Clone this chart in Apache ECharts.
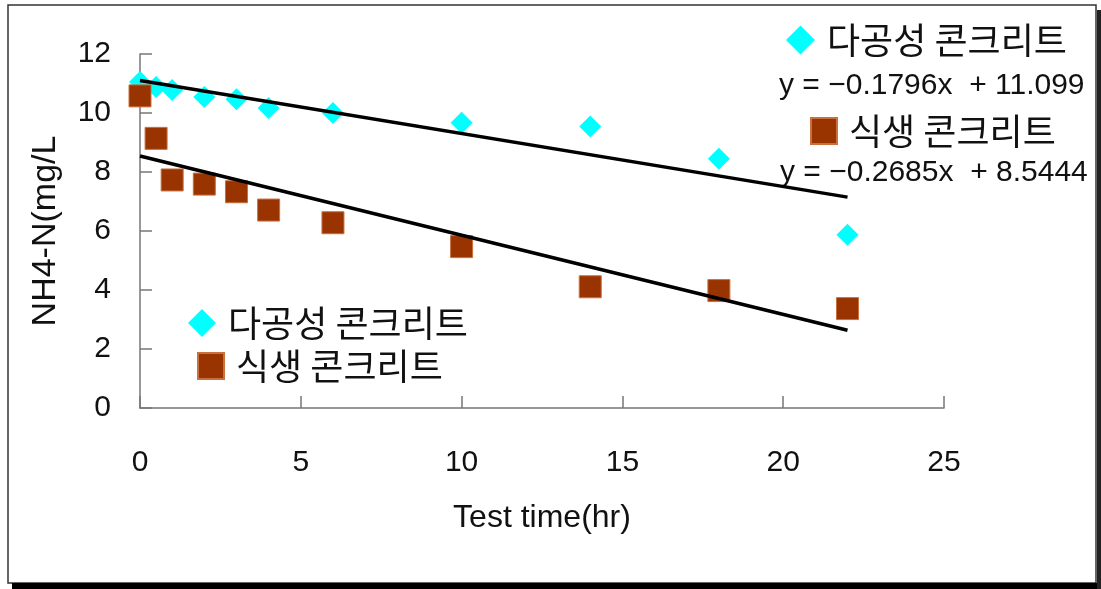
<!DOCTYPE html>
<html><head><meta charset="utf-8">
<script src="https://cdn.jsdelivr.net/npm/echarts@6/dist/echarts.min.js"></script>
<style>html,body{margin:0;padding:0;background:#fff}#c{width:1101px;height:589px}</style>
</head><body><div id="c"></div>
<script>
const timeHr = [0, 0.5, 1, 2, 3, 4, 6, 10, 14, 18, 22];
const porous = [11.05, 10.88, 10.78, 10.54, 10.47, 10.17, 10.0, 9.67, 9.54, 8.45, 5.87];
const vegetated = [10.58, 9.14, 7.73, 7.59, 7.33, 6.71, 6.28, 5.47, 4.11, 3.98, 3.37];
const seriesNames = ['다공성 콘크리트', '식생 콘크리트'];
const trendPorous = { slope: -0.1796, intercept: 11.099 };
const trendVeg = { slope: -0.2685, intercept: 8.5444 };
const eqTexts = ['y = −0.1796x  + 11.099', 'y = −0.2685x  + 8.5444'];
const xTicks = [0, 5, 10, 15, 20, 25];
const yTicks = [0, 2, 4, 6, 8, 10, 12];
const xName = 'Test time(hr)';
const yName = 'NH4-N(mg/L';

const LAT = "'Liberation Sans', Arial, sans-serif";
const KR = "'Noto Sans CJK KR', sans-serif";
const CYAN = '#00FFFF', BROWN = '#993300';

function pairs(xs, ys) { return xs.map((x, i) => [x, ys[i]]); }
function trend(t) {
  const x0 = timeHr[0], x1 = timeHr[timeHr.length - 1];
  return [[x0, t.intercept + t.slope * x0], [x1, t.intercept + t.slope * x1]];
}

const chart = echarts.init(document.getElementById('c'), null, { renderer: 'canvas' });
const legendText = { fontFamily: KR, fontSize: 36, color: '#111', padding: [0, 0, 0, 7] };
function legendOf(name, icon, size, left, top) {
  return { data: [{ name: name, icon: icon }], left: left, top: top, itemWidth: size, itemHeight: size,
    selectedMode: false, textStyle: legendText, padding: 0 };
}
chart.setOption({
  animation: false,
  backgroundColor: '#fff',
  grid: { left: 140, right: 157, top: 54, bottom: 181, containLabel: false },
  xAxis: {
    type: 'value', min: xTicks[0], max: xTicks[xTicks.length - 1], interval: 5,
    name: xName, nameLocation: 'middle', nameGap: 94,
    nameTextStyle: { fontFamily: LAT, fontSize: 32, color: '#111' },
    axisLine: { onZero: false, lineStyle: { color: '#777', width: 1.5 } },
    axisTick: { inside: true, length: 12, lineStyle: { color: '#777', width: 1.5 } },
    axisLabel: { margin: 40, fontFamily: LAT, fontSize: 30, color: '#111' },
    splitLine: { show: false }
  },
  yAxis: {
    type: 'value', min: yTicks[0], max: yTicks[yTicks.length - 1], interval: 2,
    name: yName, nameLocation: 'middle', nameGap: 77,
    nameTextStyle: { fontFamily: LAT, fontSize: 34, color: '#111' },
    axisLine: { show: true, lineStyle: { color: '#777', width: 1.5 } },
    axisTick: { show: true, inside: true, length: 12, lineStyle: { color: '#777', width: 1.5 } },
    axisLabel: { margin: 29, fontFamily: LAT, fontSize: 30, color: '#111', padding: [6, 0, 0, 0] },
    splitLine: { show: false }
  },
  legend: [
    legendOf(seriesNames[0], 'diamond', 29, 786, 22),
    legendOf(seriesNames[1], 'rect', 26, 810, 113),
    legendOf(seriesNames[0], 'diamond', 28, 188, 305),
    legendOf(seriesNames[1], 'rect', 26, 197, 348)
  ],
  series: [
    { name: seriesNames[0], type: 'scatter', data: pairs(timeHr, porous), symbol: 'diamond',
      symbolSize: 22, itemStyle: { color: CYAN, opacity: 1 }, z: 2 },
    { name: seriesNames[1], type: 'scatter', data: pairs(timeHr, vegetated), symbol: 'rect',
      symbolSize: 22, itemStyle: { color: BROWN, borderColor: '#c8703f', borderWidth: 1, opacity: 1 }, z: 2 },
    { name: 'trend1', type: 'line', data: trend(trendPorous), symbol: 'none',
      lineStyle: { color: '#000', width: 3.5 }, z: 3, silent: true },
    { name: 'trend2', type: 'line', data: trend(trendVeg), symbol: 'none',
      lineStyle: { color: '#000', width: 3.5 }, z: 3, silent: true }
  ],
  graphic: [
    { type: 'rect', shape: { x: 8, y: 5, width: 1088, height: 578 }, style: { fill: 'none', stroke: '#333', lineWidth: 1.5 }, z: -1 },
    { type: 'rect', shape: { x: 12, y: 583, width: 1089, height: 6 }, style: { fill: '#000' } },
    { type: 'rect', shape: { x: 1097, y: 10, width: 4, height: 579 }, style: { fill: '#222' } },
    { type: 'text', left: 779, top: 71, style: { text: eqTexts[0], fontFamily: LAT, fontSize: 30, fill: '#111' } },
    { type: 'text', left: 780, top: 158, style: { text: eqTexts[1], fontFamily: LAT, fontSize: 30, fill: '#111' } }
  ]
});
</script>
</body></html>
